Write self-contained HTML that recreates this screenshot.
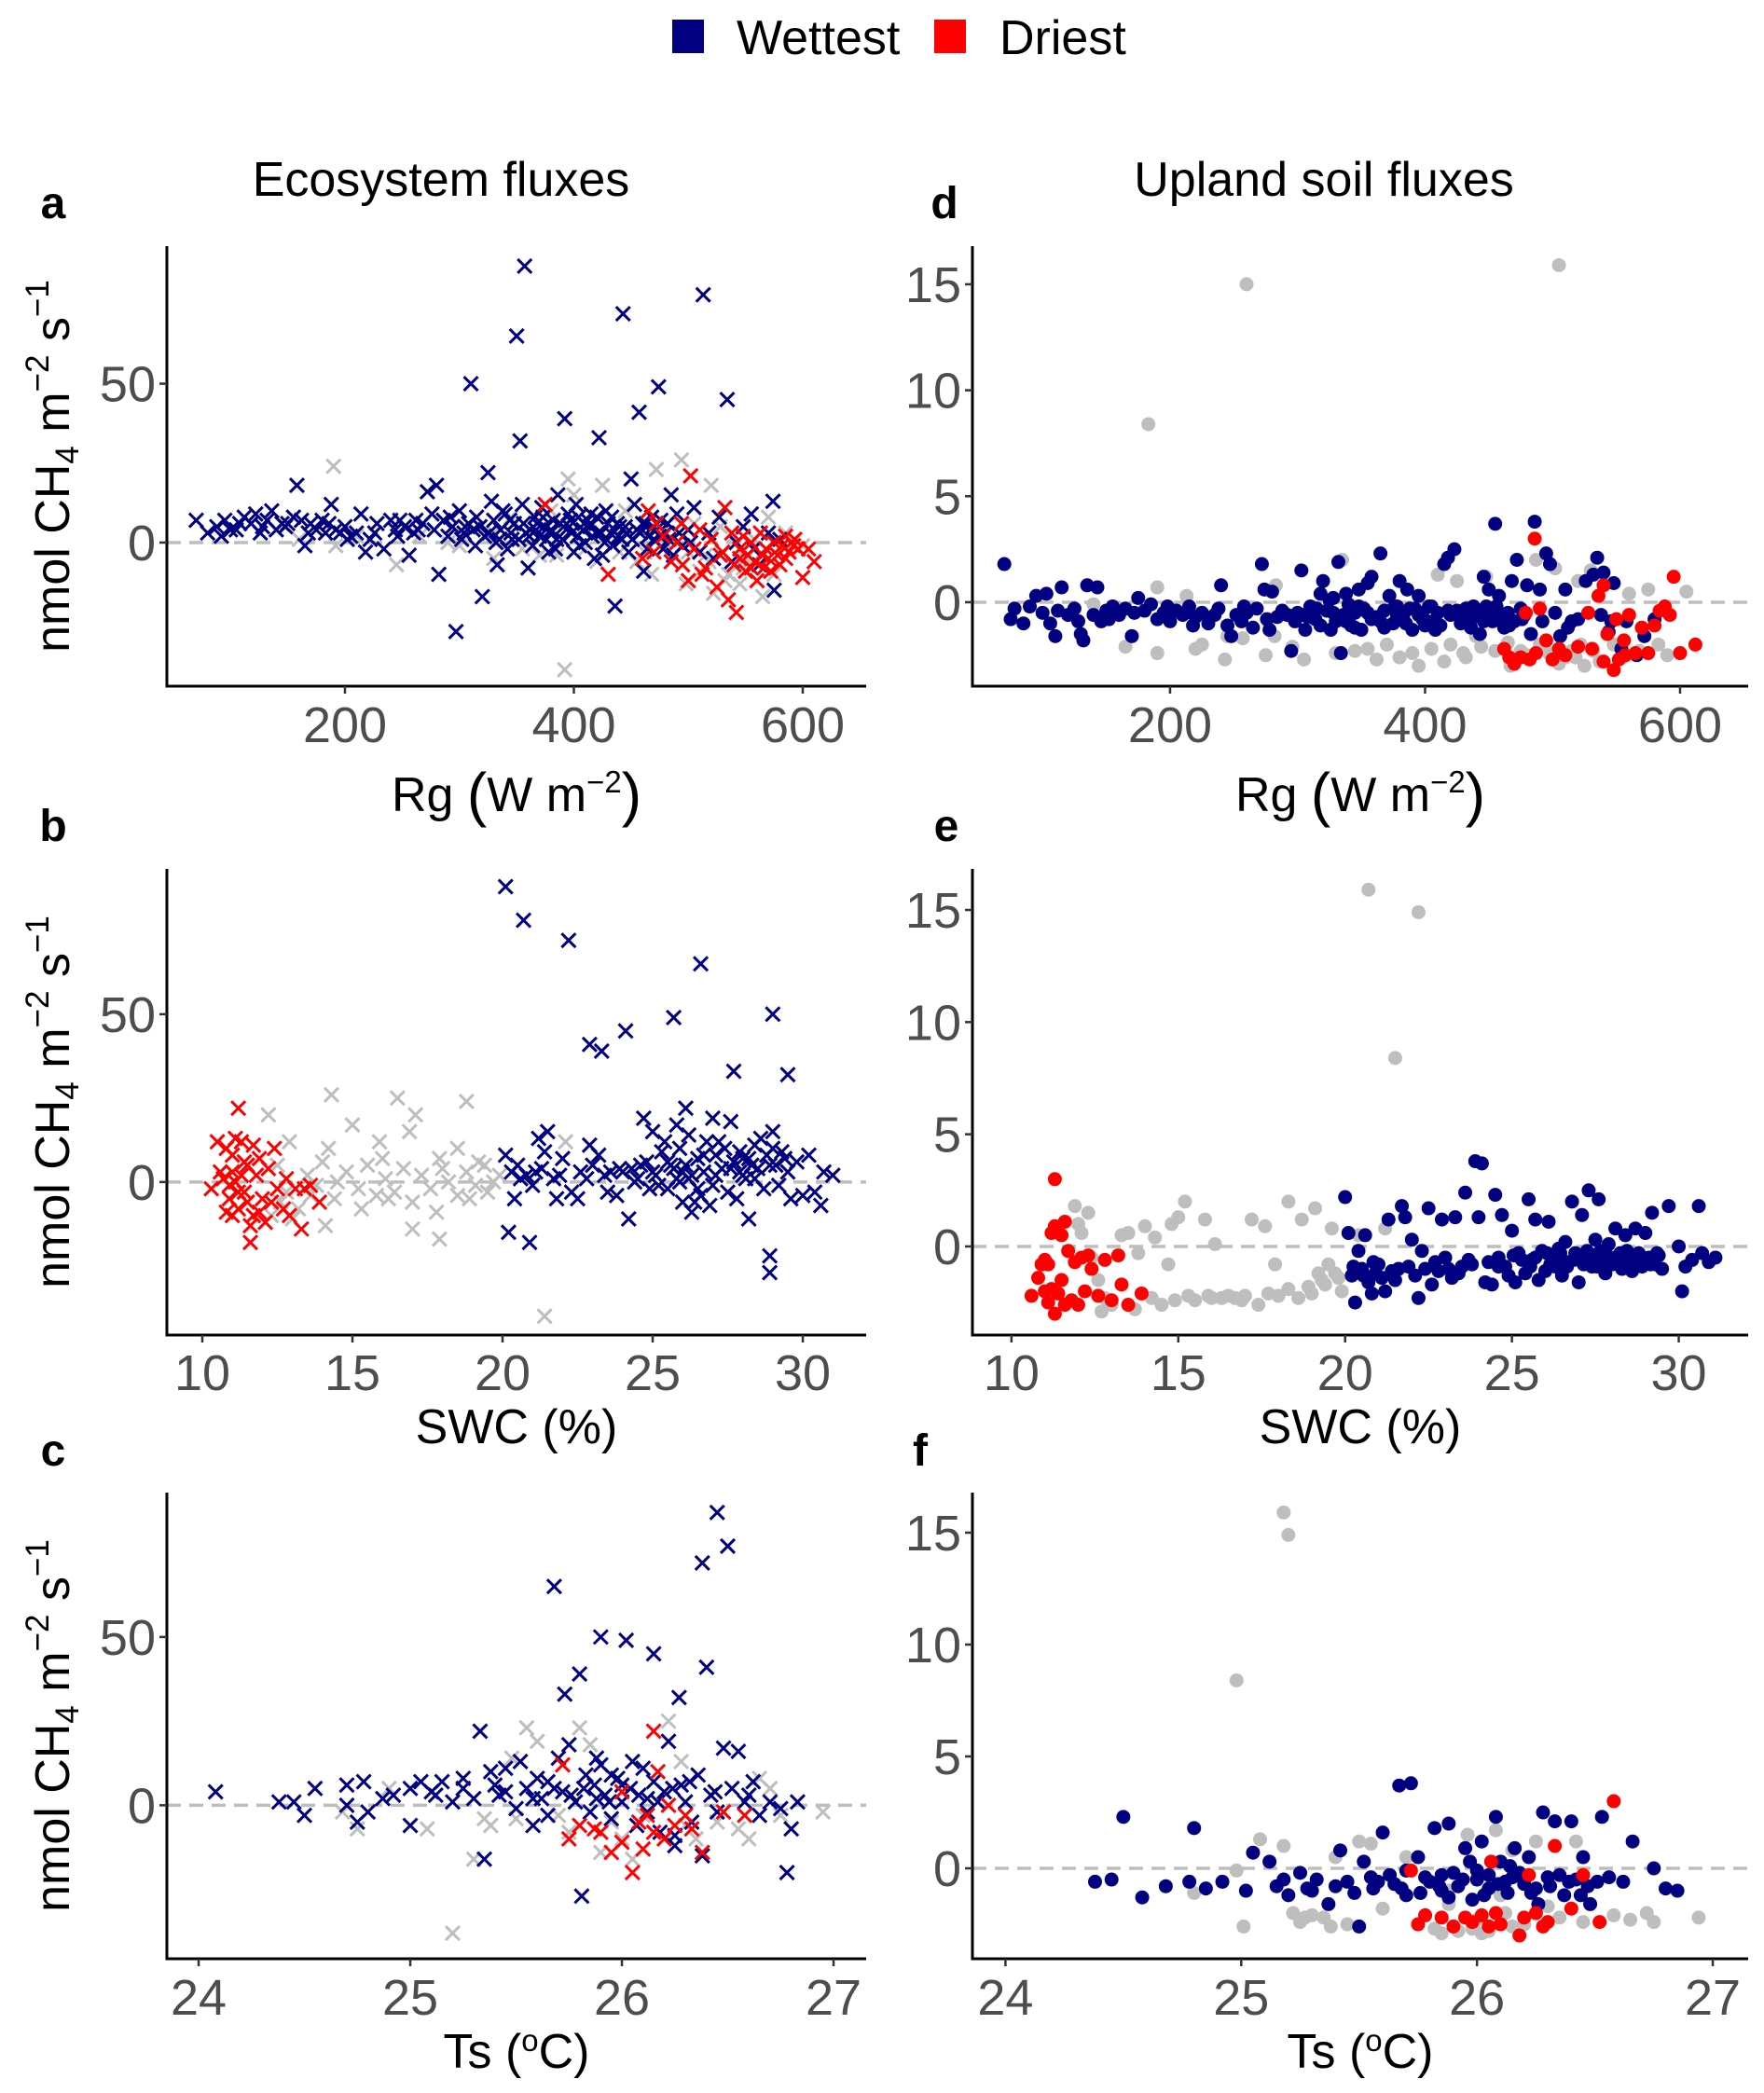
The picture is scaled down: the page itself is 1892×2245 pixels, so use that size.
<!DOCTYPE html>
<html><head><meta charset="utf-8"><style>
html,body{margin:0;padding:0;background:#fff;}
svg{display:block;font-family:"Liberation Sans",sans-serif;}
</style></head><body>
<svg id="fig" width="1892" height="2245" viewBox="0 0 1892 2245" xmlns="http://www.w3.org/2000/svg">
<g>
<rect x="721" y="21" width="34" height="36" fill="#000080"/>
<text x="790" y="58" font-size="52">Wettest</text>
<rect x="1002" y="21" width="34" height="36" fill="#FF0000"/>
<text x="1072" y="58" font-size="52">Driest</text>
</g>
<text x="473" y="210" font-size="52" text-anchor="middle">Ecosystem fluxes</text>
<text x="1420" y="210" font-size="52" text-anchor="middle">Upland soil fluxes</text>
<g id="panels"></g>
</svg>
<script>
// ---- data ----
const aWet=[[70,7],[80,3],[88,5],[92,2],[95,7],[100,4],[105,4],[112,8],[118,6],[122,9],[128,5],[132,7],[136,10],[140,4],[145,6],[150,6],[155,8],[158,18],[162,7],[165,-1],[170,6],[175,4],[180,7],[183,3],[188,12],[192,4],[196,3],[200,5],[205,2],[210,3],[214,9],[218,-3],[222,1],[228,6],[234,-2],[240,7],[244,4],[248,7],[252,5],[256,-4],[260,3],[264,4],[268,6],[272,16],[276,9],[280,18],[282,-10],[286,7],[290,2],[294,5],[297,-28],[300,10],[304,3],[308,6],[310,50],[314,-1],[318,5],[320,-17],[322,2],[325,22],[328,13],[330,7],[333,-7],[336,4],[340,9],[342,-2],[345,3],[348,6],[350,65],[352,1],[353,32],[355,12],[357,87],[360,-8],[362,4],[366,8],[370,2],[374,5],[378,-3],[382,7],[386,15],[390,1],[392,39],[395,9],[398,3],[402,12],[405,-1],[408,4],[412,7],[416,2],[420,8],[422,33],[425,-4],[428,10],[432,3],[436,-20],[438,6],[442,1],[443,72],[446,3],[450,20],[453,12],[457,41],[460,6],[461,-9],[465,2],[468,8],[472,4],[474,49],[478,-2],[482,6],[485,15],[490,9],[495,-1],[500,4],[505,11],[510,-3],[513,78],[518,3],[522,-5],[527,8],[534,45],[538,-6],[542,0],[548,5],[555,9],[557,-2],[562,-7],[570,3],[574,13],[575,-15],[580,1],[305,5],[315,8],[335,1],[338,10],[344,7],[358,3],[364,-1],[368,6],[372,11],[376,1],[380,4],[384,-2],[388,6],[396,5],[400,-3],[404,8],[410,0],[414,5],[418,-5],[424,3],[430,6],[434,-1],[440,5],[448,-3],[455,4],[463,6],[470,1],[476,7],[480,3],[487,-4],[108,6],[126,3],[148,5],[168,3],[186,6],[202,1],[226,3],[246,2],[262,7],[278,4],[292,8],[302,1],[312,4],[326,3],[332,0],[346,1],[356,6],[361,2],[367,4],[373,8],[379,3],[385,1],[391,5],[397,7],[403,2],[409,6],[415,9],[421,3],[427,0],[433,8],[439,2],[445,5],[451,1],[458,3],[464,-2],[469,5],[475,2],[483,1],[492,3],[502,0]];
const aDry=[[375,12],[430,-10],[460,-5],[465,10],[470,-3],[478,2],[485,-6],[490,0],[494,6],[500,-12],[502,21],[505,-2],[510,4],[515,-8],[520,1],[525,-14],[528,-4],[532,11],[535,-18],[538,3],[540,-7],[542,-22],[545,-5],[548,2],[550,-9],[552,-4],[555,0],[558,-6],[560,-12],[563,3],[566,-8],[568,-2],[570,-5],[572,-9],[575,0],[578,-4],[582,-1],[585,2],[588,-3],[590,0],[593,1],[596,-2],[600,-11],[605,-2],[610,-6],[580,-7],[530,-3],[512,-10],[495,-7],[472,6],[545,-2],[555,-8],[565,-4],[585,-5],[592,-1]];
const aOther=[[160,1],[190,24],[192,-1],[210,2],[245,-7],[265,2],[290,0],[300,-1],[330,3],[355,-2],[370,-4],[385,-4],[392,-40],[395,20],[400,15],[420,-6],[425,18],[440,-3],[445,10],[462,-3],[468,-10],[472,23],[480,0],[494,26],[498,-13],[505,6],[510,-9],[515,-4],[520,18],[522,-16],[528,5],[535,-10],[540,2],[545,-13],[550,-5],[558,1],[565,-17],[570,8],[575,-10],[585,3],[600,-1],[330,-5],[345,8],[380,10],[410,-2],[455,-6],[500,-3],[518,-6],[532,-12],[548,-8],[562,-4]];
const bWet=[[20.1,88],[20.7,78],[22.2,72],[26.6,65],[25.7,49],[29,50],[24.1,45],[22.9,41],[23.3,39],[27.7,33],[29.5,32],[20.2,-15],[20.9,-18],[24.2,-11],[28.2,-11],[28.9,-22],[28.9,-27],[26.1,22],[24.7,19],[27.0,19],[27.6,18],[25.8,17],[21.5,15],[21.2,13],[22.9,11],[25.0,15],[29.0,15],[20.1,8],[20.5,5],[20.8,2],[21.0,-1],[21.3,4],[21.7,1],[22.0,7],[22.3,-3],[22.6,3],[23.0,5],[23.4,2],[23.8,-4],[24.0,3],[24.4,0],[24.8,6],[25.1,2],[25.3,9],[25.5,-2],[25.7,4],[25.9,10],[26.0,-6],[26.2,1],[26.3,-9],[26.5,7],[26.7,3],[26.8,12],[27.0,-1],[27.1,8],[27.3,4],[27.5,-3],[27.7,6],[27.9,9],[28.0,2],[28.2,7],[28.4,11],[28.5,4],[28.7,-2],[28.8,8],[29.1,5],[29.3,9],[29.5,3],[29.6,-5],[30.0,-4],[30.2,8],[30.4,-3],[30.6,-7],[30.7,3],[31.0,2],[20.4,-5],[21.8,-5],[23.5,-3],[24.5,1],[25.2,-1],[25.6,5],[26.0,3],[26.4,-6],[26.9,-7],[27.4,10],[27.8,-5],[28.1,1],[28.6,13],[29.2,-1],[29.8,6],[22.5,-5],[23.2,8],[24.9,-2],[26.6,-4],[21.4,9],[25.4,12],[26.2,14],[27.2,12],[28.3,5],[29.0,10],[20.3,3],[23.9,4],[24.6,5],[25.9,0],[20.6,1],[21.1,3],[21.9,2],[22.8,1],[23.6,3],[24.3,4],[25.0,3],[25.5,6],[26.1,5],[26.3,2],[26.7,8],[27.1,2],[27.6,4],[28.0,7],[28.4,1],[28.9,5],[29.4,7],[26.5,-2],[27.9,3],[25.8,1]];
const bDry=[[11.2,22],[10.3,-2],[10.6,3],[10.8,10],[10.9,-5],[11.0,8],[11.1,0],[11.2,-8],[11.3,12],[11.4,-3],[11.5,5],[11.6,-13],[11.6,-18],[11.7,-10],[11.8,2],[11.9,7],[12.0,-5],[12.1,-12],[12.2,4],[12.4,10],[12.5,-2],[12.7,-8],[12.8,1],[12.9,-10],[13.1,-2],[13.3,-14],[13.4,-2],[13.6,-1],[13.9,-6],[10.8,-9],[11.0,-10],[11.3,2],[11.5,-6],[11.9,-9],[10.5,12],[11.1,13],[11.7,11],[12.3,-6],[10.7,1],[11.0,3],[11.2,-3],[11.4,6],[10.9,-1]];
const bOther=[[12.2,20],[14.3,26],[16.5,25],[18.8,24],[21.4,-40],[17.1,20],[15.0,17],[16.9,15],[17.9,-17],[17.0,-14],[14.1,-13],[12.9,12],[14.2,10],[15.9,12],[18.5,10],[22.1,12],[12.5,5],[12.8,-3],[13.2,-8],[13.5,2],[13.8,-1],[14.0,6],[14.5,0],[14.8,3],[15.2,-2],[15.5,5],[15.8,-4],[16.1,1],[16.4,-3],[16.7,4],[17.0,-6],[17.3,2],[17.6,-2],[17.9,7],[18.2,0],[18.5,-4],[18.8,3],[19.1,-1],[19.4,5],[19.7,0],[19.9,2],[12.3,-10],[13.0,-11],[14.4,-5],[15.3,-8],[16.2,-5],[17.8,-9],[18.9,-5],[19.5,-3],[16.0,7],[18.0,4],[19.2,6],[12.6,-6],[13.6,-4]];
const cWet=[[24.08,4],[24.38,1],[24.45,1],[24.5,-3],[24.55,5],[24.7,6],[24.7,0],[24.75,-5],[24.78,7],[24.8,-2],[24.87,2],[24.92,3],[25.0,-6],[25.0,5],[25.05,7],[25.1,4],[25.15,7],[25.2,1],[25.25,5],[25.3,2],[25.33,22],[25.35,-16],[25.38,10],[25.42,3],[25.45,11],[25.5,-1],[25.52,13],[25.55,5],[25.58,-6],[25.6,8],[25.62,2],[25.65,-3],[25.68,65],[25.7,14],[25.72,4],[25.73,33],[25.75,18],[25.78,1],[25.8,39],[25.81,-27],[25.83,9],[25.85,-2],[25.87,6],[25.9,50],[25.9,12],[25.92,3],[25.95,-4],[25.98,8],[26.0,1],[26.02,49],[26.04,5],[26.07,-6],[26.1,11],[26.12,2],[26.15,45],[26.15,7],[26.18,-8],[26.2,4],[26.22,19],[26.25,-9],[26.27,32],[26.28,6],[26.3,1],[26.33,-5],[26.36,9],[26.38,72],[26.38,-15],[26.4,41],[26.42,3],[26.45,87],[26.45,-2],[26.48,17],[26.5,77],[26.52,5],[26.55,16],[26.6,3],[26.62,7],[26.65,-3],[26.7,1],[26.75,-1],[26.78,-20],[26.8,-7],[26.83,1],[25.88,14],[26.05,13],[26.25,-12],[25.95,9],[25.65,7],[25.45,4],[25.25,8],[25.12,3],[25.4,6],[25.58,2],[25.68,5],[25.76,3],[25.82,5],[25.94,1],[26.0,6],[26.08,3],[26.17,1],[26.24,5],[26.32,7],[26.44,4],[26.58,1],[25.88,2],[26.12,-2]];
const cDry=[[25.72,12],[26.15,22],[25.75,-10],[25.8,-6],[25.9,-8],[25.95,-14],[26.0,-11],[26.05,-20],[26.08,-5],[26.1,-13],[26.12,-3],[26.15,-8],[26.2,-10],[26.25,-6],[26.3,-3],[26.33,-7],[26.38,-14],[26.48,-2],[26.58,-3],[26.17,10],[26.0,4],[25.87,-7],[26.22,0]];
const cOther=[[25.2,-38],[24.68,-2],[24.75,-7],[24.9,5],[25.08,-7],[25.3,-16],[25.38,-6],[25.55,23],[25.6,19],[25.7,-3],[25.8,23],[25.85,18],[25.9,-14],[26.05,-16],[26.22,25],[26.28,13],[26.35,-10],[26.45,-5],[26.6,-10],[26.65,8],[26.7,5],[26.95,-2],[25.5,-4],[25.75,-8],[25.95,-5],[26.1,-3],[26.3,-6],[25.35,-4],[25.48,14],[26.0,-10],[26.55,-7],[26.75,-3]];
const dWet=[[70,1.8],[75,-0.8],[78,-0.3],[85,-1.0],[90,-0.2],[95,0.3],[100,-0.5],[103,0.4],[106,-1.0],[110,-1.6],[115,0.7],[120,-0.6],[125,-0.3],[130,-1.5],[132,-1.8],[135,0.8],[140,-0.6],[143,0.7],[146,-0.9],[150,-0.4],[155,-0.2],[160,-0.6],[165,-0.3],[170,-1.6],[175,0.2],[180,-0.4],[185,-0.1],[190,-0.8],[195,-0.5],[200,-0.9],[205,-0.4],[210,-0.6],[215,-0.2],[220,-0.7],[225,-0.5],[230,-1.0],[235,-0.6],[240,0.8],[245,-1.1],[248,-1.6],[252,-0.6],[256,-0.9],[260,-0.5],[265,-1.2],[268,-0.3],[272,1.8],[274,0.6],[276,-0.8],[280,0.5],[284,-0.7],[288,-0.4],[292,-0.6],[295,-2.3],[300,-0.5],[303,1.5],[306,-1.3],[310,-0.2],[314,-0.8],[318,0.4],[320,1.0],[323,-0.4],[326,-1.3],[328,0.2],[330,-0.9],[332,1.9],[334,-2.4],[336,-0.6],[338,0.4],[340,-0.1],[342,-1.1],[345,-0.5],[348,0.6],[350,-1.3],[352,-0.3],[355,0.9],[358,1.2],[362,-0.7],[365,2.3],[368,-0.4],[372,0.3],[375,-1.0],[378,-0.2],[380,1.0],[383,-0.6],[386,0.6],[390,-1.3],[392,-0.3],[395,0.3],[398,-0.8],[400,-1.1],[403,-0.2],[406,-0.9],[410,-0.5],[415,1.8],[418,2.1],[423,2.5],[425,-0.4],[428,-1.0],[432,-0.3],[436,-0.8],[440,-0.5],[443,-1.5],[446,1.2],[448,-0.2],[450,0.6],[453,-0.9],[455,3.7],[458,0.3],[462,-1.2],[465,-0.5],[468,1.0],[472,2.0],[475,-0.3],[480,0.8],[483,-1.5],[486,3.8],[490,0.6],[495,2.3],[498,1.8],[502,-0.5],[506,-1.6],[510,0.6],[515,-0.9],[520,-0.8],[526,1.0],[532,1.3],[535,2.1],[538,-0.6],[540,1.4],[544,-1.4],[546,-0.9],[548,0.9],[554,-2.2],[558,-0.9],[566,-2.5],[572,-1.6],[580,-0.8],[305,-0.6],[315,-0.3],[325,0.1],[335,-0.8],[345,-1.2],[355,-0.5],[365,-0.9],[375,-0.3],[385,-1.0],[395,-0.6],[405,-0.2],[412,-1.1],[420,-0.6],[430,-0.9],[438,-0.2],[444,-0.7],[452,-0.4],[460,-0.7],[470,-0.9],[478,-0.6],[112,-0.4],[128,-0.9],[152,-0.8],[172,-0.5],[198,-0.2],[218,-1.1],[238,-0.3],[258,-0.2],[278,-1.3],[298,-0.9],[308,-0.7],[318,-1.1],[328,-0.5],[338,-0.9],[348,-0.2],[358,-0.8],[368,-1.2],[378,-0.6],[388,-0.3],[398,-0.5],[408,-1.3],[418,-0.4],[428,-0.6],[436,-1.2],[446,-0.9],[456,-0.2],[466,-1.1],[476,-0.8],[492,-0.9],[512,-1.2]];
const dDry=[[486,3.0],[595,1.2],[462,-2.2],[466,-2.6],[470,-2.9],[475,-2.6],[479,-0.5],[482,-2.7],[487,-2.4],[490,-0.3],[495,-1.8],[500,-2.7],[505,-2.2],[510,-2.5],[520,-2.1],[528,-0.5],[531,-2.2],[536,0.3],[540,-2.8],[543,-1.5],[548,-3.2],[550,-0.8],[552,-2.7],[557,-2.5],[560,-0.6],[565,-2.4],[570,-1.2],[575,-2.4],[580,-1.1],[584,-0.4],[588,-0.2],[592,-0.6],[600,-2.4],[612,-2.0],[540,0.8],[556,-1.8]];
const dOther=[[260,15.0],[505,15.9],[183,8.4],[140,-0.1],[160,-0.3],[165,-2.1],[190,-2.4],[190,0.7],[213,0.3],[220,-2.2],[225,-2.0],[243,-2.7],[245,-1.6],[257,-1.7],[275,-2.5],[282,-1.6],[283,0.8],[296,-2.1],[305,-2.7],[310,-0.6],[330,-2.4],[335,2.0],[345,-2.3],[355,-2.2],[362,-2.7],[370,-2.0],[380,-2.6],[390,-2.4],[395,-3.0],[405,-2.2],[410,1.3],[415,-2.8],[420,-2.0],[425,1.0],[430,-2.4],[440,-1.6],[448,1.2],[455,-2.3],[465,-1.9],[467,-3.0],[475,-2.3],[480,-2.5],[487,2.0],[490,-2.0],[497,-2.4],[502,1.6],[510,-2.6],[515,-2.3],[520,1.0],[522,-2.0],[525,-3.0],[530,1.5],[537,-2.8],[540,0.8],[548,-2.0],[555,-2.6],[560,0.4],[568,-2.3],[575,0.6],[583,-2.0],[590,-2.5],[605,0.5],[432,-2.6],[444,-2.1],[470,-2.7],[505,-2.9],[518,-2.6],[532,-2.3]];
const eWet=[[20.0,2.2],[20.1,0.6],[20.2,-1.3],[20.3,-2.5],[20.4,-0.2],[20.5,-1.0],[20.6,0.5],[20.7,-1.6],[20.8,-2.1],[20.9,-1.2],[21.0,-0.8],[21.2,-2.0],[21.3,1.2],[21.5,-1.5],[21.7,1.8],[21.8,1.3],[21.9,-0.9],[22.0,0.3],[22.2,-2.3],[22.3,-0.2],[22.5,1.7],[22.6,-1.7],[22.8,-1.1],[22.9,1.2],[23.0,-0.5],[23.2,-1.4],[23.3,1.3],[23.5,-0.9],[23.6,2.4],[23.8,-0.8],[23.9,3.8],[24.1,3.7],[24.0,1.3],[24.2,-1.6],[24.4,-1.7],[24.5,2.3],[24.6,-0.5],[24.7,1.4],[24.8,-0.9],[25.0,0.7],[25.1,-1.6],[25.2,-0.3],[25.4,-1.2],[25.5,2.1],[25.6,-0.6],[25.7,1.2],[25.8,-1.5],[25.9,-0.2],[26.0,-1.1],[26.1,1.1],[26.2,-0.4],[26.3,-0.9],[26.4,-0.1],[26.5,-1.3],[26.6,0.2],[26.7,-0.7],[26.8,2.0],[26.9,-0.3],[27.0,-1.6],[27.1,1.4],[27.2,-0.5],[27.3,2.5],[27.4,-0.9],[27.5,0.3],[27.6,2.1],[27.7,-0.6],[27.8,-1.2],[27.9,0.1],[28.0,-0.8],[28.1,0.8],[28.2,-0.4],[28.3,-1.0],[28.4,0.5],[28.5,-0.6],[28.6,-1.1],[28.7,0.8],[28.8,-0.3],[28.9,-0.9],[29.0,0.6],[29.1,-0.5],[29.2,1.5],[29.3,-0.8],[29.4,-0.4],[29.5,-1.0],[29.7,1.8],[30.0,0.0],[30.1,-2.0],[30.2,-0.9],[30.4,-0.6],[30.6,1.8],[30.7,-0.3],[30.9,-0.7],[31.1,-0.5],[25.3,-0.6],[25.7,-0.5],[26.15,-0.8],[26.45,-0.3],[26.85,-0.6],[27.25,-0.2],[27.55,-0.9],[27.85,-0.4],[28.15,-0.7],[28.45,-0.2],[28.75,-0.6],[21.1,-1.4],[21.6,-1.0],[22.1,-1.3],[22.7,-0.7],[23.1,-1.0],[23.7,-0.6],[24.3,-0.7],[24.9,-1.3],[20.25,-0.9],[20.55,-1.3],[20.85,-0.7],[21.4,-1.1],[22.4,-1.0],[23.4,-1.2],[24.6,-0.9],[25.05,-0.4],[25.55,-0.9],[26.05,-0.3],[26.35,-0.6],[26.65,-0.9],[26.95,-0.5],[27.15,-0.8],[27.45,-0.4],[27.65,-0.2],[27.95,-0.7],[28.25,-0.3],[28.55,-0.9],[28.85,-0.6],[29.15,-0.8],[29.35,-0.3]];
const eDry=[[11.3,3.0],[10.6,-2.2],[10.8,-1.4],[10.9,-0.8],[11.0,-2.0],[11.0,-0.6],[11.1,-2.5],[11.2,0.6],[11.3,-3.0],[11.3,0.9],[11.4,-2.1],[11.5,0.5],[11.6,1.1],[11.7,-0.2],[11.8,-2.4],[11.9,-0.7],[12.0,-2.6],[12.1,-0.5],[12.2,-2.0],[12.3,-0.4],[12.4,-1.0],[12.6,-2.2],[12.8,-0.6],[13.0,-2.4],[13.2,-0.4],[13.3,-1.7],[13.5,-2.6],[13.9,-2.1],[11.1,-0.8],[11.2,-1.9],[11.6,-2.6],[11.5,-1.5]];
const eOther=[[20.7,15.9],[22.2,14.9],[21.5,8.4],[11.9,1.8],[12.0,1.0],[12.1,0.6],[12.3,1.5],[12.4,-0.5],[12.6,-1.5],[12.8,-2.3],[13.0,-2.6],[13.3,0.5],[13.5,0.6],[13.8,-0.3],[14.0,0.9],[14.3,0.4],[14.5,-2.6],[14.7,-0.8],[14.8,1.0],[15.0,1.3],[15.2,2.0],[15.5,-2.4],[15.8,1.2],[16.1,0.1],[16.3,-2.3],[16.7,-2.3],[17.2,1.2],[17.4,-2.6],[17.6,0.9],[17.9,-0.8],[18.0,-2.2],[18.3,2.0],[18.6,-2.3],[18.7,1.2],[19.1,1.7],[19.2,-1.2],[19.4,-1.7],[19.6,0.8],[19.8,-1.4],[19.9,-2.0],[20.4,0.5],[21.2,0.8],[14.2,-2.3],[16.9,-2.4],[18.9,-1.8],[19.5,-0.8],[13.7,-2.8],[12.7,-2.9],[17.0,-2.2],[15.9,-2.2],[19.0,-2.1],[14.9,-2.4],[15.3,-2.2],[16.0,-2.3],[16.5,-2.2],[17.7,-2.1],[18.3,-1.9],[19.7,-1.2],[19.3,-1.5]];
const fWet=[[24.38,-0.6],[24.45,-0.5],[24.5,2.3],[24.58,-1.3],[24.68,-0.8],[24.8,1.8],[24.78,-0.6],[24.85,-0.9],[24.92,-0.6],[25.02,-1.0],[25.05,0.7],[25.12,0.3],[25.15,-0.8],[25.2,-1.2],[25.25,-0.2],[25.28,-0.9],[25.32,-0.5],[25.37,-1.6],[25.42,0.8],[25.45,-0.6],[25.5,-2.6],[25.52,0.3],[25.56,-0.9],[25.6,1.6],[25.63,-0.3],[25.67,3.7],[25.7,-1.2],[25.72,3.8],[25.75,0.5],[25.78,-0.4],[25.82,1.8],[25.85,-1.0],[25.88,2.0],[25.9,-0.2],[25.95,0.9],[25.98,-1.4],[26.02,1.2],[26.05,-0.3],[26.08,2.3],[26.1,0.3],[26.13,-1.1],[26.16,0.9],[26.2,-0.7],[26.22,0.5],[26.26,-1.6],[26.28,2.5],[26.3,-0.4],[26.33,2.1],[26.37,-1.2],[26.4,2.1],[26.42,-0.5],[26.45,0.5],[26.48,-1.6],[26.53,2.3],[26.56,-0.4],[26.62,-0.6],[26.66,1.2],[26.75,0.0],[26.8,-0.9],[26.85,-1.0],[25.4,-0.8],[25.55,-0.4],[25.65,-0.7],[25.8,-0.6],[25.92,-0.8],[26.0,-0.5],[26.12,-0.6],[26.25,-0.9],[26.35,-0.3],[26.47,-0.8],[25.85,-0.3],[26.05,-0.9],[25.7,-0.1],[26.18,-0.2],[25.18,-0.5],[25.3,-1.0],[25.48,-1.1],[25.58,-0.6],[25.68,-0.9],[25.76,-1.1],[25.84,-0.8],[25.94,-0.5],[26.03,-1.2],[26.09,-0.7],[26.15,-0.4],[26.23,-1.1],[26.31,-0.8],[26.39,-0.6],[26.44,-1.2],[26.51,-0.6],[25.88,-1.3],[26.0,-0.1],[26.14,0.1],[25.97,0.3]];
const fDry=[[26.58,3.0],[25.75,-2.5],[25.78,-2.1],[25.85,-2.2],[25.9,-2.6],[25.95,-2.2],[25.98,-2.4],[26.02,-2.1],[26.05,-2.6],[26.08,-2.0],[26.1,-2.5],[26.18,-3.0],[26.2,-2.2],[26.25,-2.0],[26.28,-2.6],[26.3,-2.4],[26.33,1.0],[26.4,-1.8],[26.45,-0.3],[26.52,-2.4],[25.72,-0.1],[26.06,0.3],[26.22,-0.3]];
const fOther=[[25.18,15.9],[25.2,14.9],[24.98,8.4],[24.98,-0.1],[25.01,-2.6],[25.08,1.3],[25.18,1.0],[25.22,-2.0],[25.3,-2.1],[25.35,-2.2],[25.4,0.5],[25.45,-2.5],[25.5,1.2],[25.55,1.1],[25.6,-1.8],[25.7,0.5],[25.78,-2.1],[25.82,-2.7],[25.88,-1.6],[25.92,-2.8],[25.96,1.5],[26.0,-2.3],[26.05,-2.8],[26.08,1.7],[26.12,-2.0],[26.15,0.8],[26.2,-2.5],[26.25,1.2],[26.3,-1.7],[26.35,-2.2],[26.42,1.2],[26.45,-2.4],[26.58,-2.1],[26.65,-2.3],[26.72,-2.0],[26.75,-2.4],[26.94,-2.2],[25.88,-1.0],[26.1,-1.2],[24.8,-1.1],[25.25,-2.4],[25.27,-2.2],[25.38,-2.6],[25.85,-2.9],[25.98,-2.7],[26.02,-2.9],[26.15,-2.6]];
const xTicksRg=[200,400,600];
const xTicksSwc=[10,15,20,25,30];
const xTicksTs=[24,25,26,27];
const yTicksEco=[0,50];
const yTicksSoil=[0,5,10,15];

// ---- layout ----
const NS="http://www.w3.org/2000/svg";
const root=document.getElementById('panels');
function mk(tag,attrs,parent){const e=document.createElementNS(NS,tag);for(const k in attrs)e.setAttribute(k,attrs[k]);(parent||root).appendChild(e);return e;}
const panels=[
 {id:'a',x0:179,x1:929,y0:264,y1:736,xd:[44.4,655.4],yd:[-45.2,93.3],xt:xTicksRg,yt:yTicksEco,series:[aOther,aWet,aDry],mark:'x',xlab:'rg',lx:57,ly:234,tickY:796,titleY:870},
 {id:'b',x0:179,x1:929,y0:932,y1:1432,xd:[8.82,32.11],yd:[-45.6,93.3],xt:xTicksSwc,yt:yTicksEco,series:[bOther,bWet,bDry],mark:'x',xlab:'swc',lx:57,ly:902,tickY:1491,titleY:1548},
 {id:'c',x0:179,x1:929,y0:1601,y1:2101,xd:[23.85,27.154],yd:[-45.6,92.9],xt:xTicksTs,yt:yTicksEco,series:[cOther,cWet,cDry],mark:'x',xlab:'ts',lx:57,ly:1572,tickY:2161,titleY:2218},
 {id:'d',x0:1043,x1:1875,y0:264,y1:736,xd:[45.0,653.4],yd:[-3.96,16.8],xt:xTicksRg,yt:yTicksSoil,series:[dOther,dWet,dDry],mark:'o',xlab:'rg',lx:1013,ly:234,tickY:796,titleY:870},
 {id:'e',x0:1043,x1:1875,y0:932,y1:1432,xd:[8.83,32.08],yd:[-3.95,16.83],xt:xTicksSwc,yt:yTicksSoil,series:[eOther,eWet,eDry],mark:'o',xlab:'swc',lx:1015,ly:902,tickY:1491,titleY:1548},
 {id:'f',x0:1043,x1:1875,y0:1601,y1:2101,xd:[23.86,27.15],yd:[-4.04,16.79],xt:xTicksTs,yt:yTicksSoil,series:[fOther,fWet,fDry],mark:'o',xlab:'ts',lx:987,ly:1572,tickY:2161,titleY:2218}
];
const colors=['#BEBEBE','#000080','#FF0000'];
const sNames=['other','wettest','driest'];
panels.forEach(p=>{
  const g=mk('g',{});
  
  
  const sx=v=>p.x0+(v-p.xd[0])/(p.xd[1]-p.xd[0])*(p.x1-p.x0);
  const sy=v=>p.y1-(v-p.yd[0])/(p.yd[1]-p.yd[0])*(p.y1-p.y0);
  const zl=mk('line',{x1:p.x0,x2:p.x1,y1:sy(0),y2:sy(0),stroke:'#BEBEBE','stroke-width':3.5,'stroke-dasharray':'15 9'},g);
  
  
  p.series.forEach((s,si)=>{
    const sg=mk('g',{},g);
    
    
    s.forEach(d=>{
      const cx=sx(d[0]),cy=sy(d[1]);
      let m;
      if(p.mark==='x'){
        const h=7.5;
        m=mk('path',{d:`M${cx-h},${cy-h}L${cx+h},${cy+h}M${cx-h},${cy+h}L${cx+h},${cy-h}`,stroke:colors[si],'stroke-width':3,fill:'none'},sg);
      } else {
        m=mk('circle',{cx:cx,cy:cy,r:7.5,fill:colors[si]},sg);
      }
      
      
    });
  });
  const ya=mk('line',{x1:p.x0,x2:p.x0,y1:p.y0,y2:p.y1+1.5,stroke:'#000','stroke-width':3},g);
  
  
  const xa=mk('line',{x1:p.x0-1.5,x2:p.x1,y1:p.y1,y2:p.y1,stroke:'#000','stroke-width':3},g);
  
  
  p.xt.forEach(t=>{
    const x=sx(t);
    const tk=mk('line',{x1:x,x2:x,y1:p.y1,y2:p.y1+8,stroke:'#333','stroke-width':2.5},g);
    
    
    const tl=mk('text',{x:x,y:p.tickY,'font-size':54,fill:'#4D4D4D','text-anchor':'middle'},g);
    tl.textContent=t;
    
    
  });
  p.yt.forEach(t=>{
    const y=sy(t);
    const tk=mk('line',{x1:p.x0-8,x2:p.x0,y1:y,y2:y,stroke:'#333','stroke-width':2.5},g);
    
    
    const tl=mk('text',{x:p.x0-12,y:y+19,'font-size':54,fill:'#4D4D4D','text-anchor':'end'},g);
    tl.textContent=t;
    
    
  });
  const pl=mk('text',{x:p.lx,y:p.ly,'font-size':48,'font-weight':'bold','text-anchor':'middle'},g);
  pl.textContent=p.id;
  
  
  const xc=(p.x0+p.x1)/2;
  const xt=mk('text',{x:xc,y:p.titleY,'font-size':52,'text-anchor':'middle'},g);
  
  
  if(p.xlab==='rg'){
    xt.innerHTML='Rg <tspan font-size="64" dy="4">(</tspan><tspan dy="-4">W m</tspan><tspan font-size="33" dy="-20">−2</tspan><tspan font-size="64" dy="24">)</tspan>';
  } else if(p.xlab==='swc'){
    xt.textContent='SWC (%)';
  } else {
    xt.innerHTML='Ts (<tspan font-size="33" dy="-18">o</tspan><tspan dy="18">C)</tspan>';
  }
  if(p.mark==='x'){
    const yc=(p.y0+p.y1)/2;
    const yt=mk('text',{x:0,y:0,'font-size':52,'text-anchor':'middle',transform:`translate(74,${yc}) rotate(-90)`},g);
    
    
    yt.innerHTML='nmol CH<tspan font-size="35" dy="10">4</tspan><tspan dy="-10"> m</tspan><tspan font-size="35" dy="-22">−2</tspan><tspan dy="22"> s</tspan><tspan font-size="35" dy="-22">−1</tspan>';
  }
});
</script>
</body></html>
